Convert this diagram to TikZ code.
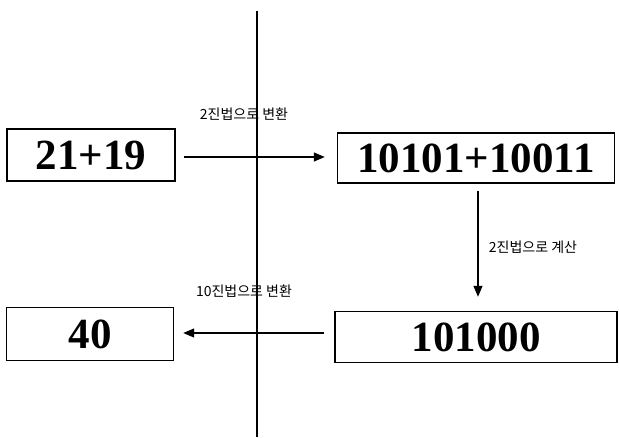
\documentclass[tikz,border=0pt]{standalone}
\usepackage{fontspec}
\setmainfont{Liberation Serif}
\newfontfamily\kr{Noto Sans CJK KR}
\usetikzlibrary{arrows.meta}
\begin{document}
\begin{tikzpicture}[x=1pt,y=-1pt,
  numbox/.style={draw=black,line width=1.4pt,inner sep=0pt,font=\bfseries\fontsize{43}{43}\selectfont},
  conn/.style={line width=1.3pt,-{Triangle[length=11pt,width=9pt]}},
  lbl/.style={font=\kr\fontsize{14}{15}\selectfont}]
\useasboundingbox (0,0) rectangle (619,437);
\node[numbox,minimum width=168pt,minimum height=52pt] (a) at (91,155) {21+19};
\node[numbox,minimum width=277pt,minimum height=50pt] (b) at (476,158) {10101+10011};
\node[numbox,minimum width=282pt,minimum height=51pt] (c) at (476,337) {101000};
\node[numbox,minimum width=167pt,minimum height=53pt] (d) at (90,334) {40};
\coordinate (vt) at (257,11);
\coordinate (vb) at (257,437);
\draw[line width=2.4pt] (vt) -- (vb);
\draw[conn] ([xshift=8pt,yshift=-2pt]a.east) -- ([xshift=-12pt,yshift=1pt]b.west);
\draw[conn] ([xshift=2pt,yshift=-7pt]b.south) -- ([xshift=2pt,yshift=14pt]c.north);
\draw[conn] ([xshift=-10pt,yshift=4pt]c.west) -- ([xshift=9pt,yshift=1pt]d.east);
\node[lbl] (l1) at (244,114) {2진법으로 변환};
\node[lbl] (l2) at (533,247) {2진법으로 계산};
\node[lbl] (l3) at (244,291) {10진법으로 변환};
\end{tikzpicture}
\end{document}
